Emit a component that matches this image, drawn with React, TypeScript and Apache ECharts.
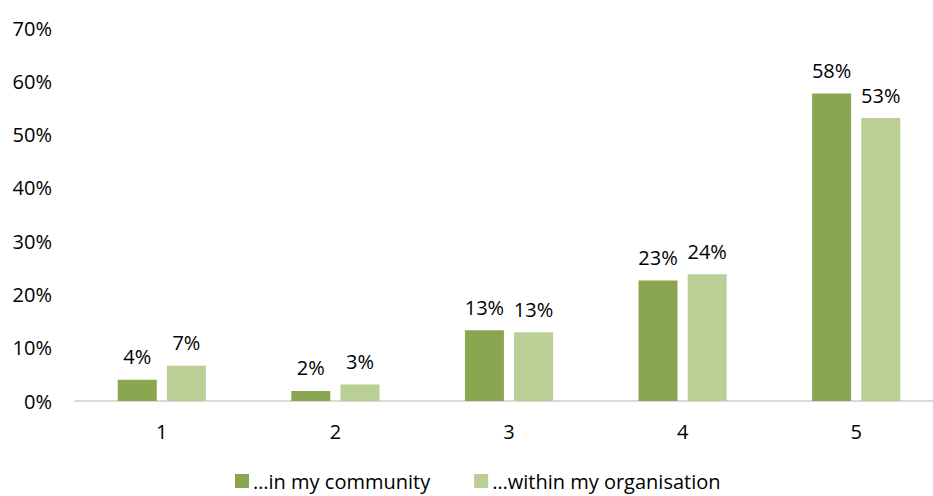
import React, { useEffect, useRef } from "react";
import * as echarts from "echarts";

const categories = ["1", "2", "3", "4", "5"];
const communityValues = [4.0, 1.9, 13.3, 22.6, 57.7];
const organisationValues = [6.6, 3.1, 12.9, 23.8, 53.1];
const seriesNames = ["…in my community", "…within my organisation"];
const yTicks = [0, 10, 20, 30, 40, 50, 60, 70];

const FONT = "'Open Sans', sans-serif";

export default function App() {
  const ref = useRef<HTMLDivElement>(null);
  useEffect(() => {
    if (!ref.current) return;
    const chart = echarts.init(ref.current, null, { renderer: "svg" });
    const label = {
      show: true,
      position: "top",
      distance: 13,
      color: "#000",
      fontFamily: FONT,
      fontSize: 20,
      formatter: (p: any) => Math.round(p.value) + "%",
    };
    chart.setOption({
      animation: false,
      backgroundColor: "#fff",
      grid: { left: 75, top: 28, width: 868, height: 373, containLabel: false },
      legend: {
        top: 471,
        left: 235,
        padding: 0,
        itemWidth: 14,
        itemHeight: 14,
        itemGap: 44,
        icon: "rect",
        textStyle: { color: "#000", fontFamily: FONT, fontSize: 20, lineHeight: 20, padding: [0, 0, 0, -1] },
        data: seriesNames,
      },
      xAxis: {
        type: "category",
        data: categories,
        axisLine: { lineStyle: { color: "#D9D9D9", width: 2 } },
        axisTick: { show: false },
        axisLabel: { color: "#000", fontFamily: FONT, fontSize: 20, margin: 20 },
      },
      yAxis: {
        type: "value",
        min: yTicks[0],
        max: yTicks[yTicks.length - 1],
        interval: 10,
        splitLine: { show: false },
        axisLine: { show: false },
        axisTick: { show: false },
        axisLabel: {
          color: "#000",
          fontFamily: FONT,
          fontSize: 20,
          margin: 23,
          formatter: (v: number) => v + "%",
        },
      },
      series: [
        {
          name: seriesNames[0],
          type: "bar",
          data: communityValues,
          barWidth: 39,
          barGap: "26%",
          itemStyle: { color: "#8BA650" },
          label,
        },
        {
          name: seriesNames[1],
          type: "bar",
          data: organisationValues,
          barWidth: 39,
          barGap: "26%",
          itemStyle: { color: "#BACF96" },
          label,
        },
      ],
    });
    return () => chart.dispose();
  }, []);
  return (
    <div
      style={{
        position: "absolute",
        left: 0,
        top: 0,
        width: 933,
        height: 496,
        overflow: "hidden",
        background: "#fff",
      }}
    >
      <div ref={ref} style={{ width: 960, height: 496 }} />
    </div>
  );
}
